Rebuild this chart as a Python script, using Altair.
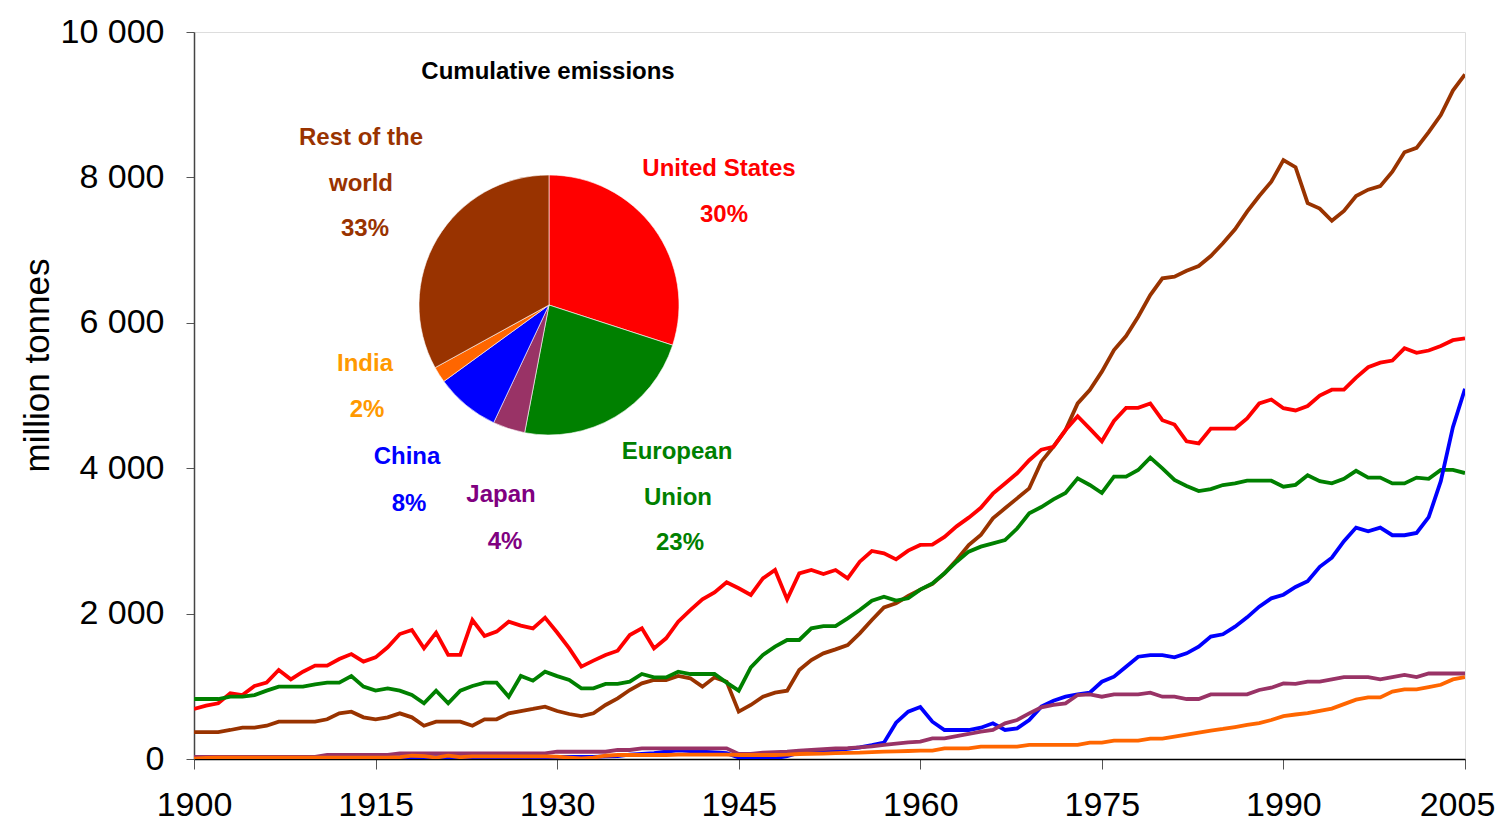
import altair as alt
import pandas as pd

years = list(range(1900, 2006))

united_states = [
    688, 734, 766, 903, 880, 1004, 1050, 1224, 1096, 1201,
    1284, 1284, 1376, 1444, 1339, 1398, 1536, 1719, 1774, 1522,
    1738, 1431, 1431, 1912, 1692, 1752, 1889, 1834, 1797, 1944,
    1740, 1522, 1270, 1353, 1431, 1490, 1706, 1797, 1522, 1660,
    1889, 2049, 2196, 2292, 2430, 2348, 2256, 2485, 2600, 2196,
    2554, 2600, 2545, 2600, 2485, 2714, 2861, 2829, 2746, 2866,
    2944, 2950, 3055, 3200, 3320, 3455, 3650, 3790, 3930, 4110,
    4255, 4295, 4525, 4715, 4545, 4370, 4650, 4830, 4830, 4890,
    4660, 4600, 4370, 4340, 4545, 4545, 4545, 4685, 4890, 4945,
    4825, 4794, 4855, 4998, 5080, 5080, 5246, 5389, 5451, 5481,
    5649, 5587, 5619, 5681, 5761, 5785]

european_union = [
    825, 825, 825, 857, 857, 880, 940, 995, 995, 995,
    1027, 1050, 1050, 1142, 995, 940, 972, 940, 880, 766,
    940, 766, 940, 1004, 1050, 1050, 857, 1142, 1077, 1201,
    1140, 1087, 972, 972, 1032, 1032, 1064, 1169, 1123, 1123,
    1201, 1169, 1169, 1169, 1050, 940, 1261, 1431, 1545, 1637,
    1637, 1797, 1829, 1829, 1935, 2049, 2178, 2233, 2178, 2210,
    2330, 2416, 2554, 2714, 2852, 2921, 2966, 3011, 3170, 3379,
    3466, 3572, 3659, 3861, 3769, 3659, 3883, 3883, 3975, 4145,
    3998, 3838, 3755, 3686, 3713, 3769, 3791, 3828, 3828, 3828,
    3746, 3771, 3902, 3821, 3791, 3853, 3964, 3870, 3870, 3791,
    3791, 3870, 3853, 3977, 3977, 3933]

rest_of_world = [
    371, 371, 371, 399, 431, 431, 458, 513, 513, 513,
    513, 546, 628, 651, 573, 546, 573, 628, 573, 458,
    513, 513, 513, 458, 546, 546, 628, 660, 688, 720,
    660, 619, 591, 628, 743, 834, 949, 1041, 1087, 1087,
    1142, 1110, 995, 1123, 1064, 651, 743, 857, 912, 940,
    1224, 1362, 1453, 1508, 1568, 1728, 1912, 2086, 2141, 2242,
    2330, 2407, 2554, 2737, 2944, 3081, 3310, 3448, 3585, 3723,
    4090, 4296, 4525, 4892, 5076, 5328, 5626, 5818, 6084, 6382,
    6612, 6635, 6717, 6781, 6919, 7093, 7286, 7529, 7744, 7941,
    8239, 8140, 7645, 7571, 7403, 7539, 7744, 7831, 7880, 8078,
    8345, 8407, 8623, 8858, 9194, 9417]

china = [
    0, 0, 0, 0, 0, 10, 20, 20, 20, 20,
    20, 20, 0, 0, 0, 0, 20, 25, 25, 25,
    25, 25, 25, 25, 25, 25, 25, 25, 25, 25,
    30, 30, 30, 30, 35, 40, 60, 70, 80, 100,
    120, 110, 100, 90, 80, 20, 0, 0, 10, 40,
    87, 95, 110, 120, 140, 161, 190, 225, 500, 651,
    715, 513, 399, 399, 399, 431, 491, 399, 422, 536,
    720, 802, 857, 889, 912, 1063, 1132, 1270, 1407, 1430,
    1430, 1398, 1453, 1545, 1683, 1715, 1820, 1949, 2095, 2210,
    2260, 2366, 2446, 2644, 2769, 2997, 3183, 3133, 3183, 3078,
    3078, 3109, 3326, 3821, 4565, 5092]

japan = [
    30, 30, 30, 30, 30, 30, 30, 30, 30, 30,
    30, 55, 55, 55, 55, 55, 55, 78, 78, 78,
    78, 78, 78, 78, 78, 78, 78, 78, 78, 78,
    100, 100, 100, 100, 100, 124, 124, 147, 147, 147,
    147, 147, 147, 147, 147, 69, 69, 87, 95, 100,
    115, 125, 135, 145, 150, 161, 175, 193, 210, 230,
    238, 284, 284, 316, 344, 376, 399, 491, 536, 628,
    711, 743, 766, 880, 889, 857, 889, 889, 889, 912,
    857, 857, 825, 825, 889, 889, 889, 889, 949, 981,
    1040, 1033, 1065, 1065, 1095, 1126, 1126, 1126, 1095, 1126,
    1157, 1126, 1176, 1176, 1176, 1176]

india = [
    5, 15, 20, 20, 20, 20, 20, 20, 20, 20,
    20, 20, 20, 20, 20, 20, 20, 25, 45, 40,
    20, 45, 25, 35, 35, 35, 35, 35, 35, 35,
    32, 20, 10, 20, 45, 55, 55, 55, 55, 55,
    60, 60, 60, 60, 60, 55, 55, 55, 55, 60,
    69, 72, 75, 80, 85, 87, 95, 101, 105, 110,
    115, 115, 147, 147, 147, 170, 170, 170, 170, 193,
    193, 193, 193, 193, 225, 225, 252, 252, 252, 280,
    280, 307, 335, 362, 390, 413, 440, 468, 495, 536,
    590, 612, 630, 661, 693, 755, 817, 847, 847, 928,
    959, 959, 990, 1021, 1095, 1126]

series_names = ["Rest of the world", "United States", "European Union", "China", "Japan", "India"]
series_values = [rest_of_world, united_states, european_union, china, japan, india]
series_colors = ["#993300", "#FF0000", "#008000", "#0000FF", "#993366", "#FF6600"]

# pie: cumulative emissions shares, clockwise from 12 o'clock
pie_regions = ["United States", "European Union", "Japan", "China", "India", "Rest of the world"]
pie_shares = [30, 23, 4, 8, 2, 33]
pie_colors = ["#FF0000", "#008000", "#993366", "#0000FF", "#FF6600", "#993300"]

# pie labels (text, colour) and their layout positions in page pixels
label_texts = ["Cumulative emissions",
               "Rest of the", "world", "33%",
               "United States", "30%",
               "India", "2%",
               "China", "8%",
               "Japan", "4%",
               "European", "Union", "23%"]
label_colors = ["#000000",
                "#993300", "#993300", "#993300",
                "#FF0000", "#FF0000",
                "#FF9900", "#FF9900",
                "#0000FF", "#0000FF",
                "#800080", "#800080",
                "#008000", "#008000", "#008000"]
label_px = [548, 361, 361, 365, 719, 724, 365, 367, 407, 409, 501, 505, 677, 678, 680]
label_py = [72, 138, 184, 229, 169, 215, 364, 410, 457, 504, 495, 542, 452, 498, 543]

rows = []
for i, (name, vals, col) in enumerate(zip(series_names, series_values, series_colors)):
    for y, v in zip(years, vals):
        rows.append({"year": y, "value": v, "series": name, "color": col, "k": i})
lines_df = pd.DataFrame(rows)

pie_df = pd.DataFrame({"region": pie_regions, "share": pie_shares,
                       "color": pie_colors, "idx": list(range(len(pie_regions)))})

PLOT_LEFT, PLOT_TOP = 194, 32
lab_df = pd.DataFrame({"text": label_texts, "color": label_colors,
                       "px": [p - PLOT_LEFT for p in label_px],
                       "py": [p - PLOT_TOP for p in label_py]})

W, H = 1271, 727
FONT = "Liberation Sans, Arial, Helvetica, sans-serif"

x_enc = alt.X("year:Q",
              scale=alt.Scale(domain=[1900, 2005], nice=False, zero=False),
              axis=alt.Axis(values=[1900, 1915, 1930, 1945, 1960, 1975, 1990, 2005],
                            format="d", title=None, grid=False,
                            labelFontSize=34, labelFont=FONT, labelColor="#000000",
                            labelPadding=19, tickSize=10, tickColor="#555555",
                            domainColor="#000000", domainWidth=1.5,
                            labelOffset={"condition": {"test": "datum.value == 2005", "value": -8},
                                         "value": 0},
                            labelFlush=False, labelOverlap=False))
y_enc = alt.Y("value:Q",
              scale=alt.Scale(domain=[0, 10000], nice=False),
              axis=alt.Axis(values=[0, 2000, 4000, 6000, 8000, 10000],
                            labelExpr="datum.value == 0 ? '0' : floor(datum.value/1000) + ' 000'",
                            title="million tonnes", titleFontSize=35, titleFont=FONT,
                            titleFontWeight="normal", titleColor="#000000",
                            titleX=-157, titleY=333, titleAngle=-90,
                            titleBaseline="middle", titleAlign="center",
                            grid=False, labelFontSize=34, labelFont=FONT,
                            labelColor="#000000", labelPadding=22, tickSize=8,
                            tickColor="#555555", domainColor="#444444", domainWidth=1.5))

lines = alt.Chart(lines_df).mark_line(strokeWidth=3.8, clip=True).encode(
    x=x_enc, y=y_enc,
    color=alt.Color("color:N", scale=None),
    detail="series:N",
    order=alt.Order("year:Q"),
)

pie = alt.Chart(pie_df).mark_arc(outerRadius=130, stroke="#ffffff", strokeWidth=0.6).encode(
    theta=alt.Theta("share:Q", stack=True),
    order=alt.Order("idx:Q"),
    color=alt.Color("color:N", scale=None),
    x=alt.value(549 - PLOT_LEFT),
    y=alt.value(305 - PLOT_TOP),
)

labels = alt.Chart(lab_df).mark_text(font=FONT, fontWeight="bold", align="center",
                                      baseline="middle", fontSize=24).encode(
    x=alt.X("px:Q", scale=None),
    y=alt.Y("py:Q", scale=None),
    text="text:N",
    color=alt.Color("color:N", scale=None),
)

chart = alt.layer(lines, pie, labels).resolve_scale(
    color="independent", x="independent", y="independent", theta="independent"
).properties(
    width=W, height=H,
    autosize=alt.AutoSizeParams(type="none"),
    padding={"left": 186, "top": 24, "right": 31, "bottom": 64},
).configure_view(stroke="#555555", strokeWidth=1.5).configure(background="#ffffff")

chart.save("out.html", embed_options={"renderer": "svg", "actions": False})
